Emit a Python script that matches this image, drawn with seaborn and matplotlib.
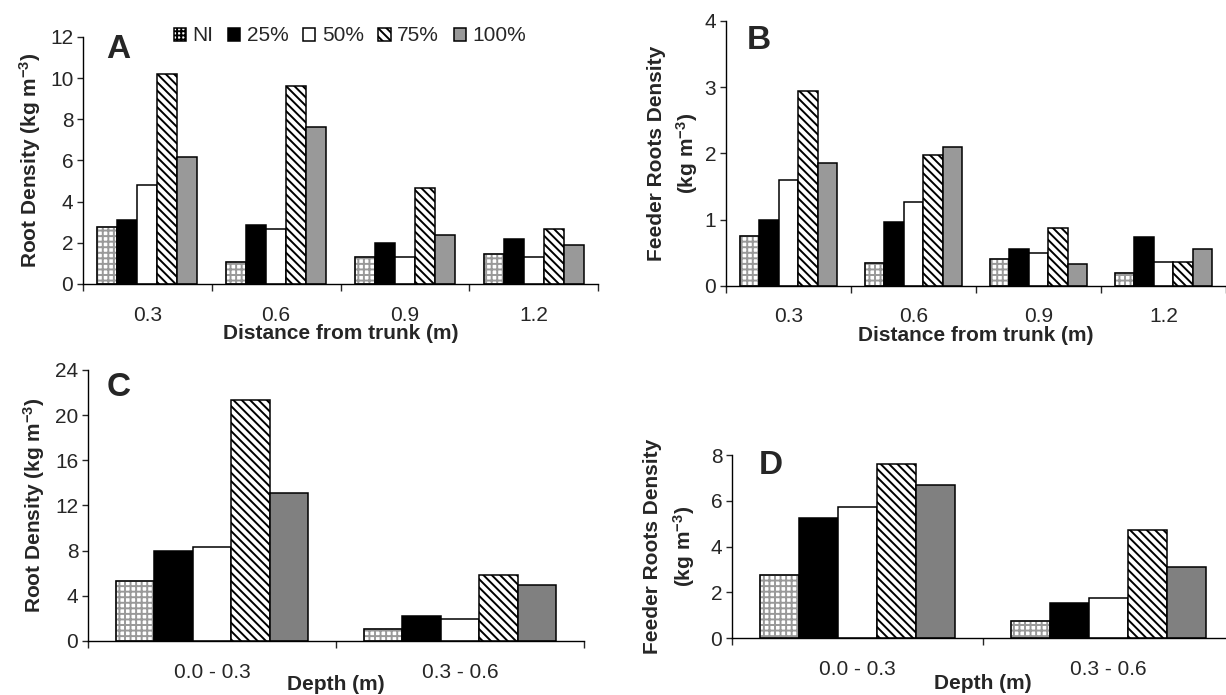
import numpy as np
import pandas as pd
import matplotlib
matplotlib.use("Agg")
import matplotlib.pyplot as plt
from matplotlib.patches import Patch, Rectangle
import seaborn as sns

sns.set_style("white")
plt.rcParams['font.family'] = ['Liberation Sans', 'DejaVu Sans']
plt.rcParams['mathtext.default'] = 'regular'
plt.rcParams['hatch.linewidth'] = 1.4

treatments = ['NI', '25%', '50%', '75%', '100%']
distance = ['0.3', '0.6', '0.9', '1.2']
depth = ['0.0 - 0.3', '0.3 - 0.6']

# rows follow treatments, columns follow distance / depth
root_by_dist = [
    [2.75, 1.05, 1.30, 1.45],
    [3.10, 2.85, 2.00, 2.20],
    [4.80, 2.65, 1.30, 1.30],
    [10.2, 9.60, 4.65, 2.65],
    [6.15, 7.65, 2.40, 1.90],
]
feeder_by_dist = [
    [0.76, 0.35, 0.41, 0.20],
    [1.00, 0.97, 0.56, 0.74],
    [1.60, 1.27, 0.50, 0.36],
    [2.94, 1.98, 0.88, 0.36],
    [1.86, 2.10, 0.33, 0.56],
]
root_by_depth = [
    [5.35, 1.05],
    [8.00, 2.20],
    [8.35, 1.95],
    [21.3, 5.85],
    [13.1, 4.95],
]
feeder_by_depth = [
    [2.75, 0.73],
    [5.24, 1.51],
    [5.73, 1.75],
    [7.62, 4.73],
    [6.68, 3.11],
]

checker = '#999999'
hatches = {'NI': '+++', '75%': '\\\\\\\\'}


def long_table(cats, vals):
    rows = []
    for t, row in zip(treatments, vals):
        for c, v in zip(cats, row):
            rows.append({'cat': c, 'trt': t, 'val': v})
    return pd.DataFrame(rows)


def panel(ax, cats, vals, gray, ymax, step, ylabel, xlabel, letter,
          letter_xy, xlab_y, tick_pad, ylab_pad):
    pal = {'NI': 'white', '25%': 'black', '50%': 'white', '75%': 'white', '100%': gray}
    df = long_table(cats, vals)
    sns.barplot(data=df, x='cat', y='val', hue='trt', order=cats, hue_order=treatments,
                palette=pal, saturation=1, width=0.775, edgecolor='black',
                linewidth=1.1, errorbar=None, legend=False, ax=ax)
    for cont, t in zip(ax.containers, treatments):
        for p in cont:
            if t == 'NI':
                p.set_hatch(hatches['NI'])
                p.set_edgecolor(checker)
                ax.add_patch(Rectangle((p.get_x(), p.get_y()), p.get_width(), p.get_height(),
                                       fill=False, edgecolor='black', lw=1.1))
            elif t == '75%':
                p.set_hatch(hatches['75%'])

    n = len(cats)
    ax.set_xlim(-0.5, n - 0.5)
    ax.set_ylim(0, ymax)
    ax.set_yticks(np.arange(0, ymax + step / 2, step))
    ax.set_xticks(range(n))
    ax.set_xticklabels(cats)
    ax.set_xticks(np.arange(-0.5, n, 1), minor=True)
    ax.tick_params(axis='y', left=True, direction='out', length=4, width=1, labelsize=15, pad=3)
    ax.tick_params(axis='x', which='major', bottom=False, length=0, labelsize=15, pad=tick_pad)
    ax.tick_params(axis='x', which='minor', bottom=True, direction='out', length=5, width=1)
    for s in ['top', 'right']:
        ax.spines[s].set_visible(False)
    for s in ['left', 'bottom']:
        ax.spines[s].set_color('black')
        ax.spines[s].set_linewidth(1.0)

    ax.set_ylabel(ylabel, fontsize=15, fontweight='bold', labelpad=ylab_pad, linespacing=1.45)
    ax.set_xlabel(xlabel, fontsize=15, fontweight='bold')
    ax.xaxis.set_label_coords(0.5, xlab_y)
    ax.xaxis.label.set_va('center')
    ax.text(letter_xy[0], letter_xy[1], letter, transform=ax.transAxes,
            fontsize=24, fontweight='bold', ha='left', va='center')


fig = plt.figure(figsize=(12.26, 6.95), dpi=100)
ax_a = fig.add_axes([0.0677, 0.5914, 0.4201, 0.3554])
ax_b = fig.add_axes([0.5922, 0.5885, 0.4078, 0.3813])
ax_c = fig.add_axes([0.0718, 0.0777, 0.4046, 0.3900])
ax_d = fig.add_axes([0.5971, 0.0820, 0.4095, 0.2633])

panel(ax_a, distance, root_by_dist, '#999999', 12, 2,
      'Root Density (kg m$^{-3}$)', 'Distance from trunk (m)', 'A',
      (0.045, 0.951), -0.200, 16, 5)
panel(ax_b, distance, feeder_by_dist, '#999999', 4, 1,
      'Feeder Roots Density\n(kg m$^{-3}$)', 'Distance from trunk (m)', 'B',
      (0.042, 0.928), -0.185, 15, 3)
panel(ax_c, depth, root_by_depth, '#808080', 24, 4,
      'Root Density (kg m$^{-3}$)', 'Depth (m)', 'C',
      (0.038, 0.937), -0.159, 16, 6)
panel(ax_d, depth, feeder_by_depth, '#808080', 8, 2,
      'Feeder Roots Density\n(kg m$^{-3}$)', 'Depth (m)', 'D',
      (0.054, 0.945), -0.246, 16, 10)

pal_a = {'NI': 'white', '25%': 'black', '50%': 'white', '75%': 'white', '100%': '#999999'}
handles = []
for t in treatments:
    handles.append(Patch(facecolor=pal_a[t], edgecolor='black', linewidth=1.1,
                         hatch={'NI': '++++', '75%': '\\\\\\\\'}.get(t)))
ax_a.legend(handles, treatments, loc='center', bbox_to_anchor=(0.518, 1.004), ncol=5,
            frameon=False, fontsize=15, handlelength=0.6, handleheight=0.6,
            handletextpad=0.3, columnspacing=0.7, borderaxespad=0)

fig.savefig('out.png', dpi=100)
